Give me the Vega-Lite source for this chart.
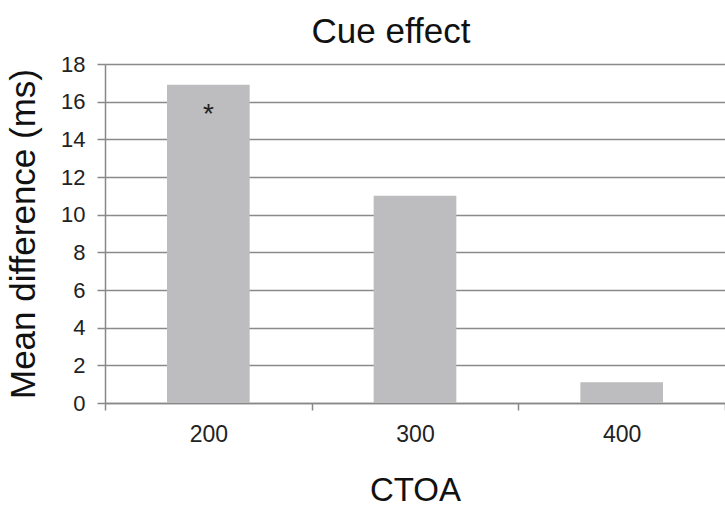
{
  "$schema": "https://vega.github.io/schema/vega-lite/v6.json",
  "autosize": "none",
  "width": 620,
  "height": 339,
  "padding": {"left": 105, "top": 64, "right": 0, "bottom": 103},
  "background": "white",
  "title": {"text": "Cue effect", "font": "Liberation Sans", "fontSize": 35, "fontWeight": "normal", "color": "#111", "offset": 3, "dx": -24},
  "data": {"values": [
    {"CTOA": "200", "diff": 16.9, "sig": "*"},
    {"CTOA": "300", "diff": 11.0, "sig": ""},
    {"CTOA": "400", "diff": 1.1, "sig": ""}
  ]},
  "config": {"view": {"stroke": null}, "font": "Liberation Sans"},
  "encoding": {
    "x": {"field": "CTOA", "type": "nominal", "sort": null,
      "scale": {"paddingInner": 0, "paddingOuter": 0},
      "axis": {"title": "CTOA", "labelAngle": 0, "labelFontSize": 23, "labelColor": "#222", "labelPadding": 13,
        "tickBand": "extent", "tickSize": 7, "tickColor": "#888", "tickWidth": 1.5, "domainColor": "#888", "domainWidth": 1.5,
        "titleFontSize": 33, "titleFontWeight": "normal", "titleColor": "#111", "titlePadding": 28}},
    "y": {"field": "diff", "type": "quantitative",
      "scale": {"domain": [0, 18]},
      "axis": {"title": "Mean difference (ms)", "values": [0,2,4,6,8,10,12,14,16,18], "labelFontSize": 22, "labelColor": "#222", "labelPadding": 12,
        "tickSize": 8, "tickColor": "#888", "tickWidth": 1.5, "domainColor": "#888", "domainWidth": 1.5,
        "grid": true, "gridColor": "#8a8a8a", "gridWidth": 1.5,
        "titleFontSize": 35, "titleFontWeight": "normal", "titleColor": "#111", "titlePadding": 19}}
  },
  "layer": [
    {"mark": {"type": "bar", "color": "#bdbdbf", "width": {"band": 0.4}}},
    {"mark": {"type": "text", "baseline": "top", "dy": 16, "fontSize": 28, "color": "#222"},
     "encoding": {"text": {"field": "sig"}}}
  ]
}
